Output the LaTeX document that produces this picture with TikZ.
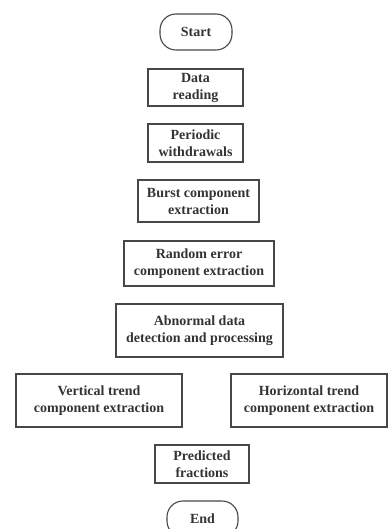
\documentclass[tikz,border=0pt]{standalone}
\usepackage{fontspec}
\setmainfont{Liberation Serif}
\begin{document}
\begin{tikzpicture}[x=1pt,y=-1pt,
  every node/.style={font=\fontsize{14}{17}\selectfont\bfseries, text=black!80, align=center, inner sep=0pt},
  box/.style={draw=black!72, line width=1.1pt, rectangle},
  term/.style={draw=black!72, line width=1.1pt, rectangle, rounded corners=16pt}]
\useasboundingbox (0,0) rectangle (388,529);
\node[term, minimum width=72pt, minimum height=36pt] (start) at (196,32) {Start};
\node[box, minimum width=95pt, minimum height=37pt] (read) at (195.5,87.5) {Data\\reading};
\node[box, minimum width=95pt, minimum height=38pt] (period) at (195.5,143) {Periodic\\withdrawals};
\node[box, minimum width=121pt, minimum height=42pt] (burst) at (198.5,201) {Burst component\\extraction};
\node[box, minimum width=150pt, minimum height=45pt] (random) at (199,263.5) {Random error\\component extraction};
\node[box, minimum width=167pt, minimum height=53pt] (abnormal) at (199.5,330.5) {Abnormal data\\detection and processing};
\node[box, minimum width=166pt, minimum height=53pt] (vert) at (99,400.5) {Vertical trend\\component extraction};
\node[box, minimum width=156pt, minimum height=53pt] (horiz) at (309,400.5) {Horizontal trend\\component extraction};
\node[box, minimum width=94pt, minimum height=38pt] (pred) at (202,464) {Predicted\\fractions};
\node[term, minimum width=71pt, minimum height=36pt] (end) at (202.5,519) {End};
\end{tikzpicture}
\end{document}
